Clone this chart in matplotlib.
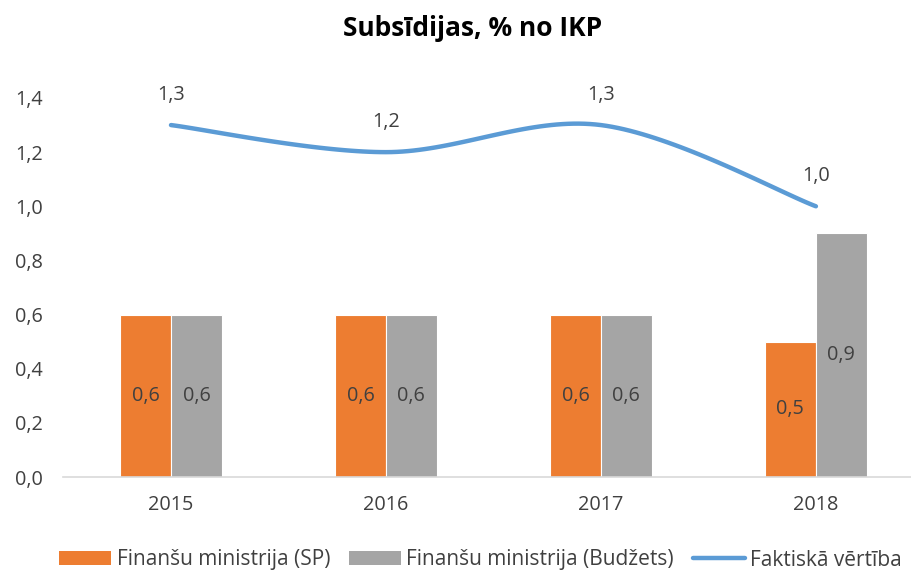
import numpy as np
import matplotlib
matplotlib.use("Agg")
import matplotlib.pyplot as plt
from matplotlib.lines import Line2D
from matplotlib.patches import Patch

years = ["2015", "2016", "2017", "2018"]
fm_sp = [0.6, 0.6, 0.6, 0.5]
fm_budzets = [0.6, 0.6, 0.6, 0.9]
faktiska = [1.3, 1.2, 1.3, 1.0]
yticks = [0.0, 0.2, 0.4, 0.6, 0.8, 1.0, 1.2, 1.4]

def fmt(v):
    return f"{v:.1f}".replace(".", ",")

def catmull(xs, ys, n=40):
    P = np.column_stack([xs, ys]).astype(float)
    P = np.vstack([P[0], P, P[-1]])
    out = []
    for i in range(1, len(P) - 2):
        p0, p1, p2, p3 = P[i - 1], P[i], P[i + 1], P[i + 2]
        c1 = p1 + (p2 - p0) / 6
        c2 = p2 - (p3 - p1) / 6
        t = np.linspace(0, 1, n)[:, None]
        seg = (1 - t) ** 3 * p1 + 3 * (1 - t) ** 2 * t * c1 + 3 * (1 - t) * t ** 2 * c2 + t ** 3 * p2
        out.append(seg)
    out = np.vstack(out)
    return out[:, 0], out[:, 1]

plt.rcParams['font.family'] = ['Open Sans', 'DejaVu Sans']
fig = plt.figure(figsize=(9.12, 5.71), dpi=100)
ax = fig.add_axes([63.5 / 912, 94 / 571, 848.5 / 912, 379 / 571])

x = np.arange(len(years))
w = 0.237
orange = "#ED7D31"
gray = "#A5A5A5"
blue = "#5B9BD5"
txt = "#404040"
fs = 14.3

ax.bar(x - w / 2, fm_sp, w, color=orange, edgecolor="white", linewidth=0.8)
ax.bar(x + w / 2, fm_budzets, w, color=gray, edgecolor="white", linewidth=0.8)
for xi, v in zip(x - w / 2, fm_sp):
    ax.text(xi, v / 2, fmt(v), ha="center", va="center", fontsize=fs, color=txt)
for xi, v in zip(x + w / 2, fm_budzets):
    ax.text(xi, v / 2, fmt(v), ha="center", va="center", fontsize=fs, color=txt)

sx, sy = catmull(x, faktiska)
ax.plot(sx, sy, color=blue, linewidth=3.2, solid_capstyle="round", clip_on=False)
for xi, v in zip(x, faktiska):
    ax.annotate(fmt(v), (xi, v), xytext=(0, 22), textcoords="offset points",
                ha="center", va="center", fontsize=fs, color=txt, annotation_clip=False)

ax.set_xlim(-0.5, 3.447)
ax.set_ylim(0, 1.4)
ax.set_yticks(yticks)
ax.set_yticklabels([fmt(v) for v in yticks], fontsize=fs, color=txt)
ax.set_xticks(x)
ax.set_xticklabels(years, fontsize=fs, color=txt)
ax.tick_params(axis="both", length=0)
ax.tick_params(axis="x", pad=13)
ax.tick_params(axis="y", pad=15)
for s in ["top", "right", "left"]:
    ax.spines[s].set_visible(False)
ax.spines["bottom"].set_color("#D9D9D9")
ax.spines["bottom"].set_linewidth(1.2)

fig.text(472.5 / 912, 1 - 28 / 571, "Subsīdijas, % no IKP", ha="center", va="center",
         fontsize=19, fontweight="bold", color="black")

handles = [Patch(facecolor=orange), Patch(facecolor=gray),
           Line2D([0], [0], color=blue, linewidth=3.2, solid_capstyle="round")]
labels = ["Finanšu ministrija (SP)", "Finanšu ministrija (Budžets)", "Faktiskā vērtība"]
fig.legend(handles, labels, loc="center", bbox_to_anchor=(480.5 / 912, 1 - 560 / 571), ncol=3,
           frameon=False, fontsize=15, handlelength=2.5, handleheight=0.62,
           handletextpad=0.25, columnspacing=0.9, labelcolor=txt,
           borderaxespad=0, borderpad=0)

fig.savefig("out.png", dpi=100)
